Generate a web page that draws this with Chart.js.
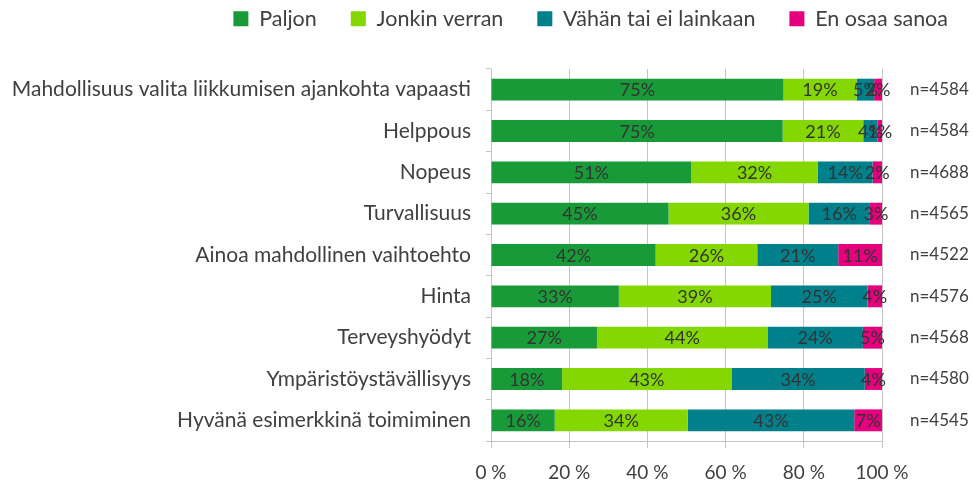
<!DOCTYPE html>
<html lang="fi">

<head>
    <meta charset="UTF-8">
    <title>Liikkumistavan valintaan vaikuttavat tekijät</title>
    <style>
        html, body {
            margin: 0;
            padding: 0;
            background: #fff;
        }

        .chart-container {
            position: relative;
            width: 973px;
            height: 481px;
        }
    </style>
</head>

<body>
    <div class="chart-container">
        <canvas id="chartCanvas"></canvas>
    </div>

    <script src="https://cdn.jsdelivr.net/npm/chart.js"></script>
    <script>
        // Data luettu kuvasta (%)
        const categories = [
            'Mahdollisuus valita liikkumisen ajankohta vapaasti',
            'Helppous',
            'Nopeus',
            'Turvallisuus',
            'Ainoa mahdollinen vaihtoehto',
            'Hinta',
            'Terveyshyödyt',
            'Ympäristöystävällisyys',
            'Hyvänä esimerkkinä toimiminen'
        ];
        const nLabels = ['n=4584', 'n=4584', 'n=4688', 'n=4565', 'n=4522', 'n=4576', 'n=4568', 'n=4580', 'n=4545'];
        const seriesNames = ['Paljon', 'Jonkin verran', 'Vähän tai ei lainkaan', 'En osaa sanoa'];
        const paljon = [74.8, 74.6, 51.2, 45.4, 42.1, 32.7, 27.1, 18.2, 16.3];
        const jonkin = [18.7, 20.6, 32.4, 35.8, 26.0, 38.9, 43.6, 43.3, 34.0];
        const vahan = [4.5, 3.7, 14.0, 15.7, 20.7, 24.7, 24.4, 34.1, 42.6];
        const eos = [2.0, 1.1, 2.4, 3.1, 11.2, 3.7, 4.9, 4.4, 7.1];
        const xTicks = [0, 20, 40, 60, 80, 100];

        const colors = ['#199a39', '#84d700', '#00808a', '#e6007e'];
        const textColor = '#404040';
        const gridColor = '#c4c4c4';

        Chart.defaults.font.family = 'Lato';
        Chart.defaults.color = textColor;

        // prosenttiluvut palkkien sisään
        const segmentLabels = {
            id: 'segmentLabels',
            afterDatasetsDraw(chart) {
                const ctx = chart.ctx;
                ctx.save();
                ctx.font = '18px Lato';
                ctx.fillStyle = '#333';
                ctx.textAlign = 'center';
                ctx.textBaseline = 'middle';
                chart.data.datasets.forEach((ds, i) => {
                    chart.getDatasetMeta(i).data.forEach((bar, j) => {
                        ctx.fillText(Math.round(ds.data[j]) + '%', (bar.x + bar.base) / 2, bar.y + 1);
                    });
                });
                ctx.restore();
            }
        };

        // lisää tilaa selitteen alle
        const legendSpace = {
            id: 'legendSpace',
            beforeInit(chart) {
                const fit = chart.legend.fit;
                chart.legend.fit = function () {
                    fit.bind(chart.legend)();
                    this.height = 95;
                };
            }
        };

        const seriesData = [paljon, jonkin, vahan, eos];

        const ctx = document.getElementById('chartCanvas').getContext('2d');
        const chart = new Chart(ctx, {
            type: 'bar',
            data: {
                labels: categories,
                datasets: seriesNames.map((name, i) => ({
                    label: name,
                    data: seriesData[i],
                    backgroundColor: colors[i],
                    borderWidth: 0,
                    categoryPercentage: 1,
                    barPercentage: 0.53
                }))
            },
            options: {
                indexAxis: 'y',
                responsive: true,
                maintainAspectRatio: false,
                animation: false,
                layout: {
                    padding: { top: -26, right: -9, bottom: 0, left: 0 }
                },
                plugins: {
                    tooltip: { enabled: false },
                    legend: {
                        position: 'top',
                        align: 'end',
                        labels: {
                            boxWidth: 15,
                            boxHeight: 15,
                            padding: 34,
                            color: textColor,
                            font: { size: 21.5 }
                        }
                    }
                },
                scales: {
                    x: {
                        stacked: true,
                        min: 0,
                        max: 100,
                        afterBuildTicks(scale) {
                            scale.ticks = xTicks.map(v => ({ value: v }));
                        },
                        afterFit(scale) {
                            scale.height = 40;
                        },
                        grid: {
                            color: gridColor,
                            tickLength: 7
                        },
                        border: { color: gridColor },
                        ticks: {
                            padding: 13,
                            color: textColor,
                            font: { size: 19 },
                            callback: v => v + ' %'
                        }
                    },
                    y: {
                        stacked: true,
                        afterFit(scale) {
                            scale.width = 491;
                        },
                        grid: {
                            offset: true,
                            drawOnChartArea: false,
                            color: gridColor,
                            tickLength: 5
                        },
                        border: { color: gridColor },
                        ticks: {
                            padding: 15,
                            color: textColor,
                            font: { size: 21 }
                        }
                    },
                    n: {
                        type: 'category',
                        position: 'right',
                        labels: nLabels,
                        offset: true,
                        afterFit(scale) {
                            scale.width = 100;
                        },
                        grid: { display: false, drawTicks: false },
                        border: { display: false },
                        ticks: {
                            padding: 28,
                            color: textColor,
                            font: { size: 17 }
                        }
                    }
                }
            },
            plugins: [segmentLabels, legendSpace]
        });
    </script>
</body>

</html>
